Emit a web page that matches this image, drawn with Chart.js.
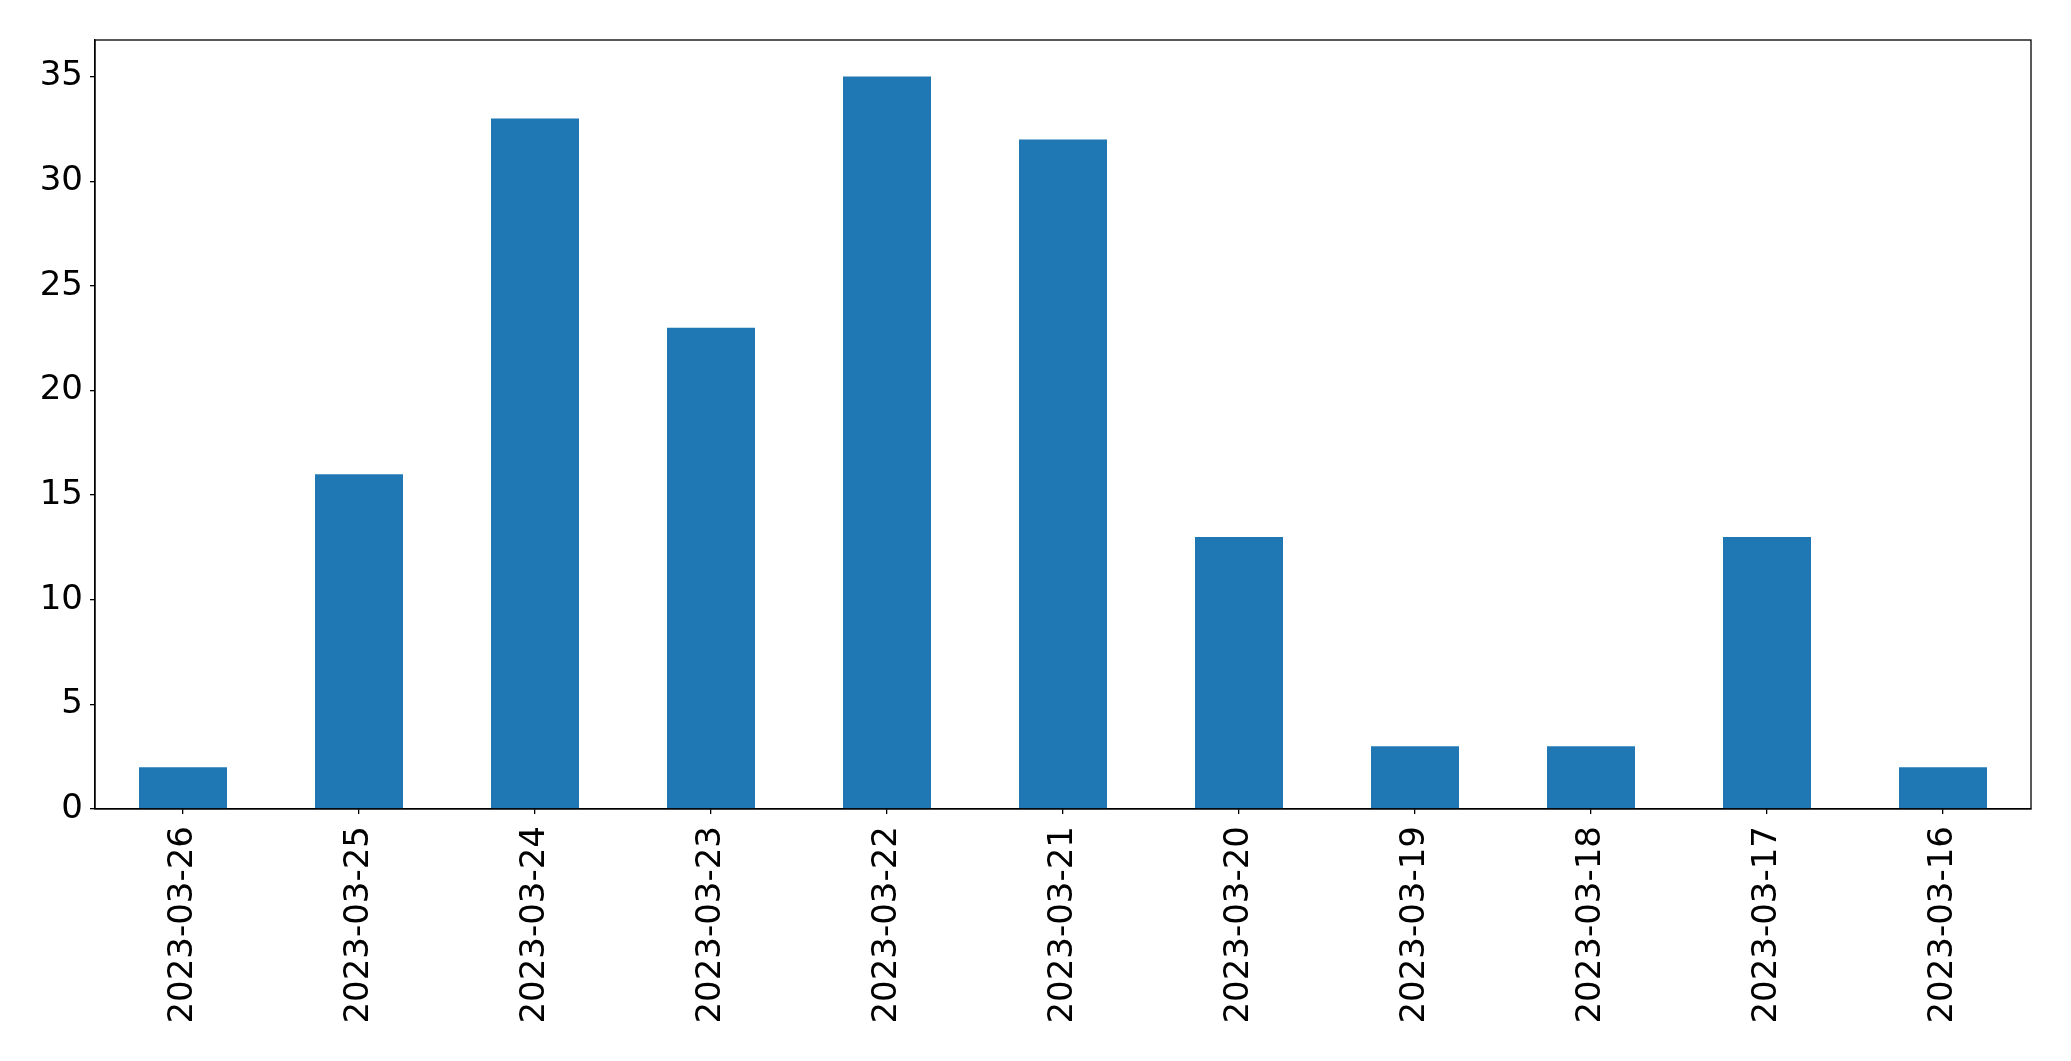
<!DOCTYPE html>
<html>
<head>
<meta charset="utf-8">
<script src="https://cdn.jsdelivr.net/npm/chart.js@4/dist/chart.umd.min.js"></script>
<style>
  html, body { margin: 0; padding: 0; background: #fff; }
  #wrap { width: 2071px; height: 1061px; }
</style>
</head>
<body>
<div id="wrap"><canvas id="barCanvas" width="2071" height="1061"></canvas></div>
<script>
// data
const dates = ["2023-03-26", "2023-03-25", "2023-03-24", "2023-03-23", "2023-03-22",
               "2023-03-21", "2023-03-20", "2023-03-19", "2023-03-18", "2023-03-17", "2023-03-16"];
const counts = [2, 16, 33, 23, 35, 32, 13, 3, 3, 13, 2];
const yTicks = [0, 5, 10, 15, 20, 25, 30, 35];

// box round the plot (matplotlib style)
const frame = {
    id: "frame",
    afterDraw(chart) {
        const a = chart.chartArea;
        const ctx = chart.ctx;
        ctx.save();
        ctx.strokeStyle = "#000";
        ctx.lineWidth = 1.3;
        ctx.strokeRect(a.left, a.top, a.right - a.left, a.bottom - a.top);
        ctx.restore();
    }
};

const ctx = document.getElementById("barCanvas").getContext("2d");
new Chart(ctx, {
    type: "bar",
    data: {
        labels: dates,
        datasets: [{
            data: counts,
            backgroundColor: "#1f77b4",
            borderWidth: 0,
            barPercentage: 0.5,
            categoryPercentage: 1.0
        }]
    },
    options: {
        responsive: false,
        animation: false,
        layout: { padding: { top: 40, right: 40, left: 0, bottom: 0 } },
        plugins: { legend: { display: false }, tooltip: { enabled: false } },
        scales: {
            x: {
                grid: { offset: false, drawOnChartArea: false, drawTicks: true, tickLength: 5, color: "#000", lineWidth: 1.3 },
                border: { color: "#000", width: 1.3 },
                ticks: {
                    color: "#000",
                    font: { family: "DejaVu Sans", size: 34 },
                    minRotation: 90,
                    maxRotation: 90,
                    padding: 12,
                    autoSkip: false
                },
                afterFit(axis) { axis.height = 252; }
            },
            y: {
                min: 0,
                max: 36.75,
                grid: { drawOnChartArea: false, drawTicks: true, tickLength: 5, color: "#000", lineWidth: 1.3 },
                border: { color: "#000", width: 1.3 },
                afterBuildTicks(axis) { axis.ticks = yTicks.map(v => ({ value: v })); },
                ticks: {
                    color: "#000",
                    font: { family: "DejaVu Sans", size: 34 },
                    padding: 7
                },
                afterFit(axis) { axis.width = 95; }
            }
        }
    },
    plugins: [frame]
});
</script>
</body>
</html>
